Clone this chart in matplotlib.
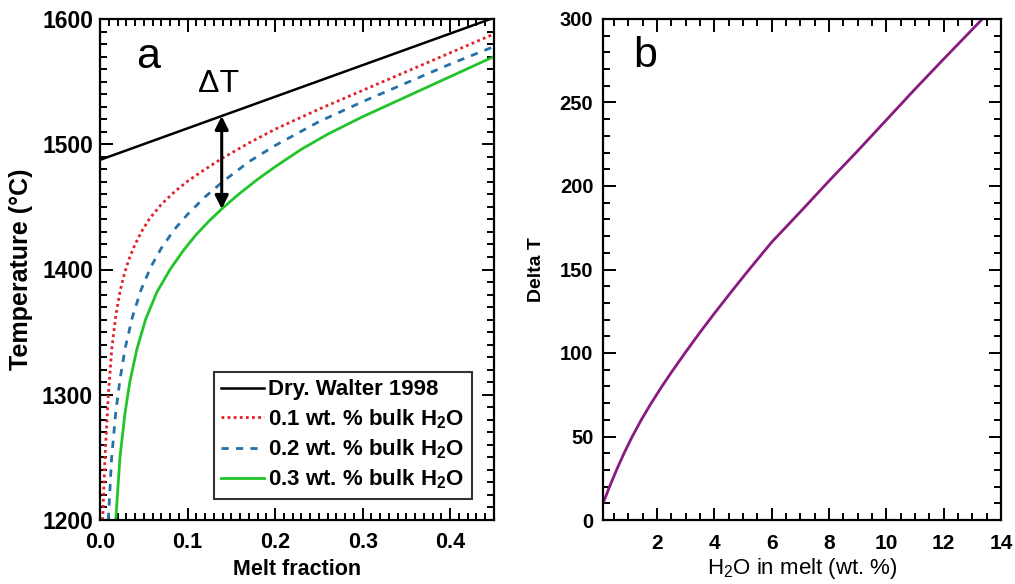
import numpy as np
import matplotlib
matplotlib.use("Agg")
import matplotlib.pyplot as plt
from matplotlib.ticker import MultipleLocator

plt.rcParams['font.family'] = ['Liberation Sans', 'DejaVu Sans']
plt.rcParams['mathtext.fontset'] = 'custom'
plt.rcParams['mathtext.rm'] = 'Liberation Sans'
plt.rcParams['mathtext.bf'] = 'Liberation Sans:bold'

# ---- panel a: solidus curves (melt fraction vs temperature) ----
dry_f = [0.0, 0.45]
dry_t = [1487.5, 1601.0]

h01_f = [0.003, 0.0057, 0.0095, 0.0135, 0.018, 0.023, 0.028, 0.033, 0.04,
         0.048, 0.057, 0.07, 0.085, 0.1, 0.12, 0.14, 0.17, 0.2, 0.25, 0.3,
         0.35, 0.4, 0.45]
h01_t = [1200, 1250, 1300, 1337, 1363, 1383, 1397, 1408, 1420,
         1431, 1441, 1452, 1462, 1470.5, 1480, 1489, 1501, 1512, 1528, 1543,
         1558, 1573, 1588]

h02_f = [0.0095, 0.0133, 0.018, 0.023, 0.029, 0.037, 0.047, 0.058, 0.07,
         0.085, 0.1, 0.12, 0.14, 0.17, 0.2, 0.25, 0.3, 0.35, 0.4, 0.45]
h02_t = [1200, 1250, 1286, 1313, 1338, 1362, 1384, 1402, 1417,
         1432, 1444, 1458, 1470, 1486, 1499, 1518, 1534, 1549, 1564, 1578]

h03_f = [0.018, 0.0228, 0.0285, 0.034, 0.042, 0.052, 0.065, 0.08, 0.095,
         0.11, 0.125, 0.14, 0.16, 0.18, 0.2, 0.23, 0.26, 0.3, 0.35, 0.4, 0.45]
h03_t = [1200, 1250, 1285, 1310, 1336, 1360, 1382, 1400, 1415,
         1428, 1439, 1449, 1461, 1472, 1482, 1496, 1508, 1522, 1538, 1554, 1570]

arrow_f = 0.139

# ---- panel b: temperature depression vs water in melt ----
h2o_melt = [0.1, 0.35, 0.6, 0.86, 1.12, 1.44, 1.77, 2.17, 2.5, 3.0, 3.5,
            4.0, 4.5, 5.0, 5.5, 6.0, 7.0, 8.0, 9.0, 10.0, 11.0, 12.0, 13.35]
delta_t = [9, 20, 30.3, 40.2, 49.3, 59.5, 69.1, 79.9, 88.3, 100.5, 112.3,
           123.6, 134.6, 145.4, 155.9, 166.3, 184.5, 203, 221, 239.5, 258,
           276, 300]

W, H = 1015, 584
fig = plt.figure(figsize=(W / 100, H / 100), dpi=100)
axa = fig.add_axes([100 / W, 1 - 520 / H, 394 / W, 501 / H])
axb = fig.add_axes([603 / W, 1 - 520 / H, 398 / W, 501 / H])


def style_axes(ax, xsize, ysize, xpad, ypad):
    for sp in ax.spines.values():
        sp.set_linewidth(1.6)
    ax.tick_params(which='both', direction='in', top=True, right=True,
                   width=1.4)
    ax.tick_params(which='major', length=9)
    ax.tick_params(which='minor', length=5)
    ax.tick_params(axis='x', labelsize=xsize, pad=xpad)
    ax.tick_params(axis='y', labelsize=ysize, pad=ypad)
    for lab in ax.get_xticklabels() + ax.get_yticklabels():
        lab.set_fontweight('bold')


# panel a
axa.plot(dry_f, dry_t, color='black', lw=1.8, label='Dry. Walter 1998')
axa.plot(h01_f, h01_t, color='#e3202a', lw=2.0, linestyle=(0, (1, 1.2)),
         label=r'0.1 wt. % bulk H$_\mathbf{2}$O')
axa.plot(h02_f, h02_t, color='#2471a8', lw=2.0, linestyle=(0, (2.6, 2.6)),
         label=r'0.2 wt. % bulk H$_\mathbf{2}$O')
axa.plot(h03_f, h03_t, color='#22c42a', lw=2.0,
         label=r'0.3 wt. % bulk H$_\mathbf{2}$O')
axa.set_xlim(0, 0.45)
axa.set_ylim(1200, 1600)
axa.xaxis.set_minor_locator(MultipleLocator(0.01))
axa.yaxis.set_major_locator(MultipleLocator(100))
axa.yaxis.set_minor_locator(MultipleLocator(10))
axa.set_xticks([0, 0.1, 0.2, 0.3, 0.4])
axa.set_xticklabels(['0.0', '0.1', '0.2', '0.3', '0.4'])
style_axes(axa, 15.5, 16.5, 9, 5)
axa.set_xlabel('Melt fraction', fontsize=15.5, fontweight='bold')
axa.xaxis.set_label_coords(0.5, -0.077)
axa.set_ylabel('Temperature (°C)', fontsize=18, fontweight='bold')
axa.yaxis.set_label_coords(-0.17, 0.5)

top_t = np.interp(arrow_f, dry_f, dry_t)
bot_t = np.interp(arrow_f, h03_f, h03_t)
axa.annotate('', xy=(arrow_f, bot_t), xytext=(arrow_f, top_t),
             arrowprops=dict(arrowstyle='<|-|>', color='black', lw=2.2,
                             mutation_scale=20, shrinkA=0, shrinkB=0))
axa.text(arrow_f - 0.004, 1548, r'ΔT', fontsize=23, ha='center', va='center')
axa.text(0.055, 1570, 'a', fontsize=31, ha='center', va='center')

leg = axa.legend(loc='lower right', bbox_to_anchor=(0.944, 0.042),
                 prop=dict(size=16, weight='bold'), frameon=True, fancybox=False,
                 edgecolor='black', handlelength=1.9, handletextpad=0.2,
                 borderpad=0.35, labelspacing=0.3, borderaxespad=0.0)
leg.get_frame().set_linewidth(1.5)

# panel b
axb.plot(h2o_melt, delta_t, color='#8a1a80', lw=2.0)
axb.set_xlim(0.12, 14.0)
axb.set_ylim(0, 300)
axb.xaxis.set_major_locator(MultipleLocator(2))
axb.xaxis.set_minor_locator(MultipleLocator(0.5))
axb.yaxis.set_major_locator(MultipleLocator(50))
axb.yaxis.set_minor_locator(MultipleLocator(10))
style_axes(axb, 15, 14.5, 10, 7)
axb.set_xlabel(r'H$_\mathrm{2}$O in melt (wt. %)', fontsize=16)
axb.xaxis.set_label_coords(0.5, -0.071)
axb.set_ylabel('Delta T', fontsize=14, fontweight='bold')
axb.yaxis.set_label_coords(-0.146, 0.5)
axb.text(1.58, 278, 'b', fontsize=31, ha='center', va='center')

fig.savefig('out.png', dpi=100)
